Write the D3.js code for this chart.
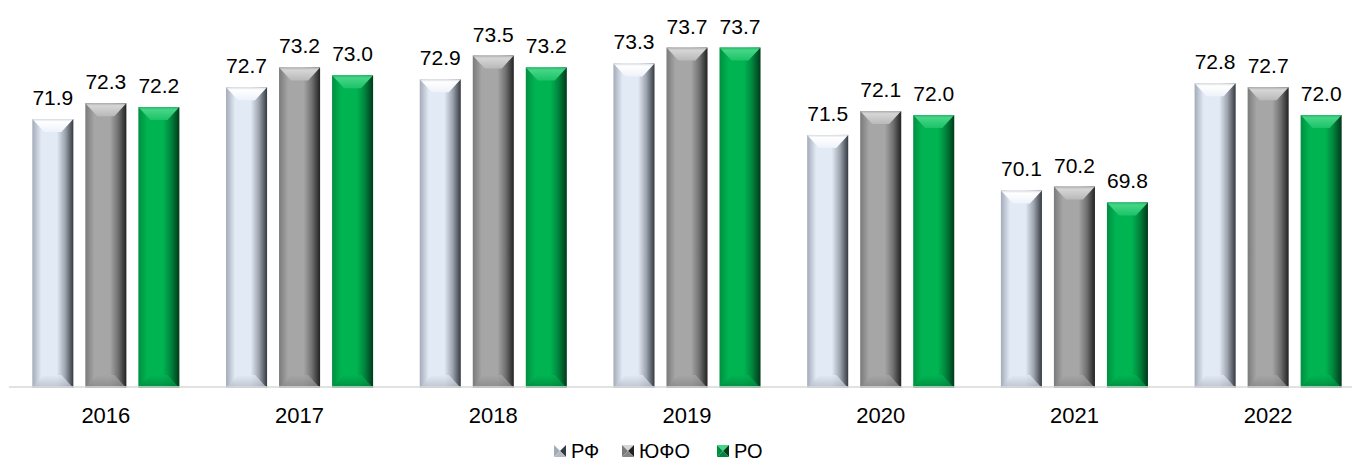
<!DOCTYPE html>
<html>
<head>
<meta charset="utf-8">
<script src="https://cdn.jsdelivr.net/npm/d3@7"></script>
<style>
  body { margin: 0; background: #fff; }
  svg { display: block; font-family: "Liberation Sans", Arial, sans-serif; }
</style>
</head>
<body>
<svg width="1352" height="462"></svg>
<script>
const years = ['2016', '2017', '2018', '2019', '2020', '2021', '2022'];
const series = ['РФ', 'ЮФО', 'РО'];
const rf = [71.9, 72.7, 72.9, 73.3, 71.5, 70.1, 72.8];
const yufo = [72.3, 73.2, 73.5, 73.7, 72.1, 70.2, 72.7];
const ro = [72.2, 73.0, 73.2, 73.7, 72.0, 69.8, 72.0];
const values = [rf, yufo, ro];

// colours for each series: edge, base, top face, dark edge
const palette = [
  { left: '#a3abb8', base: '#e2eaf6', top: '#ffffff', right: '#353a42', bottom: '#b3bbc6' },
  { left: '#7a7a7a', base: '#a6a6a6', top: '#d6d6d6', right: '#222222', bottom: '#868686' },
  { left: '#008f40', base: '#00b452', top: '#45d687', right: '#003a1a', bottom: '#00863c' },
];

const svg = d3.select('svg');
const base = 387;

const x0 = d3.scaleBand().domain(years).range([9, 1365]);
const x1 = d3.scaleBand().domain(series).range([0, x0.bandwidth()])
  .paddingInner(0.226).paddingOuter(0.44);
const y = d3.scaleLinear().domain([65.15, 75]).range([base, base - 9.85 * 39.7]);

const defs = svg.append('defs');
palette.forEach((p, i) => {
  const g = defs.append('linearGradient').attr('id', 'side' + i)
    .attr('x1', 0).attr('x2', 1).attr('y1', 0).attr('y2', 0);
  [[0, p.left], [0.22, p.base], [0.6, p.base], [0.8, d3.interpolateRgb(p.base, p.right)(0.4)], [1, p.right]]
    .forEach(s => g.append('stop').attr('offset', s[0]).attr('stop-color', s[1]));
  const t = defs.append('linearGradient').attr('id', 'top' + i)
    .attr('x1', 0).attr('x2', 0).attr('y1', 0).attr('y2', 1);
  [[0, d3.interpolateRgb(p.top, p.left)(0.45)], [0.2, p.top], [1, d3.interpolateRgb(p.top, p.base)(0.6)]]
    .forEach(s => t.append('stop').attr('offset', s[0]).attr('stop-color', s[1]));
  const b = defs.append('linearGradient').attr('id', 'bot' + i)
    .attr('x1', 0).attr('x2', 0).attr('y1', 0).attr('y2', 1);
  [[0, p.base], [1, p.bottom]]
    .forEach(s => b.append('stop').attr('offset', s[0]).attr('stop-color', s[1]));
});

function bevelBar(g, x, top, w, h, i) {
  const bx = 12, by = Math.min(13, h / 2);
  const bottom = top + h;
  g.append('rect').attr('x', x).attr('y', top).attr('width', w).attr('height', h)
    .attr('fill', `url(#side${i})`);
  g.append('path')
    .attr('d', `M${x},${top}L${x + w},${top}L${x + w - bx},${top + by}L${x + bx},${top + by}Z`)
    .attr('fill', `url(#top${i})`);
  g.append('path')
    .attr('d', `M${x},${bottom}L${x + w},${bottom}L${x + w - bx},${bottom - by}L${x + bx},${bottom - by}Z`)
    .attr('fill', `url(#bot${i})`).attr('opacity', 0.8);
}

const groups = svg.selectAll('g.year').data(years).join('g')
  .attr('class', 'year')
  .attr('transform', d => `translate(${x0(d)},0)`);

groups.each(function (yr, j) {
  const g = d3.select(this);
  series.forEach((s, i) => {
    const v = values[i][j];
    const bx = x1(s), bw = x1.bandwidth();
    bevelBar(g, bx, y(v), bw, base + 1 - y(v), i);
    g.append('text')
      .attr('x', bx + bw / 2).attr('y', y(v) - 14)
      .attr('text-anchor', 'middle').attr('font-size', 21).attr('fill', '#000')
      .text(v.toFixed(1));
  });
  g.append('text')
    .attr('x', x0.bandwidth() / 2).attr('y', 423)
    .attr('text-anchor', 'middle').attr('font-size', 22).attr('fill', '#000')
    .text(yr);
});

// axis baseline
svg.append('line').attr('x1', 9).attr('x2', 1352).attr('y1', base).attr('y2', base)
  .attr('stroke', '#d9d9d9').attr('stroke-width', 1.5);

// legend
const legendX = [554, 622, 717];
const legend = svg.selectAll('g.legend').data(series).join('g')
  .attr('class', 'legend')
  .attr('transform', (d, i) => `translate(${legendX[i]},445)`);
legend.each(function (s, i) {
  const g = d3.select(this);
  const p = palette[i], m = 12, c = m / 2;
  g.append('path').attr('d', `M0,0L${m},0L${c},${c}Z`).attr('fill', p.top);
  g.append('path').attr('d', `M0,0L0,${m}L${c},${c}Z`).attr('fill', p.left);
  g.append('path').attr('d', `M${m},0L${m},${m}L${c},${c}Z`).attr('fill', p.right);
  g.append('path').attr('d', `M0,${m}L${m},${m}L${c},${c}Z`).attr('fill', p.bottom);
  g.append('text').attr('x', 17).attr('y', 13).attr('font-size', 20).attr('fill', '#000').text(s);
});
</script>
</body>
</html>
